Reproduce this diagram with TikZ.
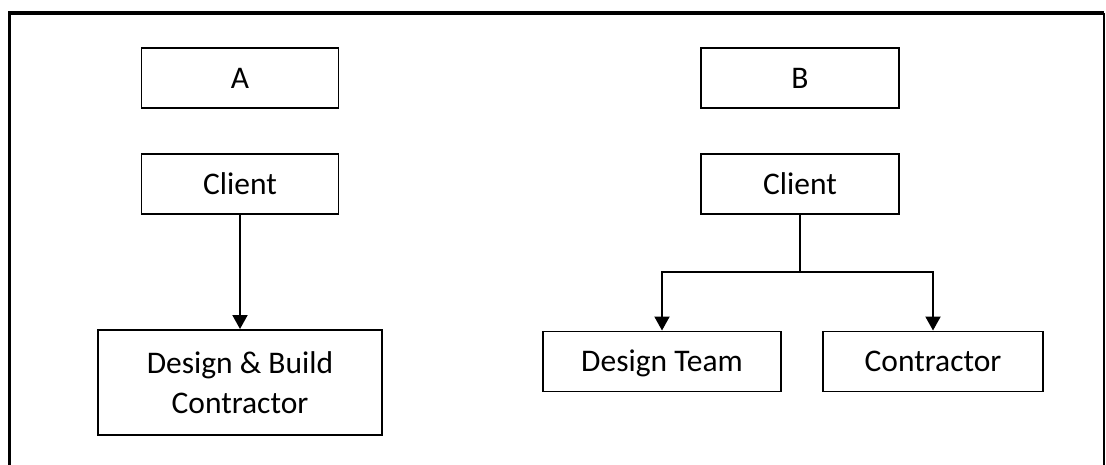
\documentclass[tikz,border=0pt]{standalone}
\usepackage{fontspec}
\setmainfont{Carlito}
\usetikzlibrary{arrows.meta,positioning}

\begin{document}
\begin{tikzpicture}[>={Triangle[length=0.35cm,width=0.375cm]},
    font=\fontsize{22.4}{28.5}\selectfont,
    orgbox/.style={draw, line width=1.4pt, minimum width=#1, minimum height=1.5cm,
                   inner sep=0pt, text height=0.52cm, text depth=0pt},
    link/.style={line width=1.4pt}]
  \useasboundingbox (0,0) rectangle (27.65,11.6);
  %% outer frame
  \draw[line width=2.8pt] (0.2375,-0.5) -- (0.2375,11.275) -- (27.6,11.275);
  \draw[line width=1pt] (27.6,11.275) -- (27.6,-0.5);
  %% option A
  \node[orgbox=4.925cm] (a) at (6,9.65) {A};
  \node[orgbox=4.925cm] (clienta) at (6,7.0) {Client};
  \node[orgbox=7.1cm, minimum height=2.625cm, align=center,
        text height={}, text depth={}] (dbcontractor) at (6,2.0375)
    {Design \& Build\\Contractor};
  \draw[link, ->] (clienta) -- (dbcontractor);
  %% option B
  \node[orgbox=4.95cm] (b) at (20,9.65) {B};
  \node[orgbox=4.95cm] (clientb) at (20,7.0) {Client};
  \node[orgbox=5.95cm] (designteam) at (16.55,2.5625) {Design Team};
  \node[orgbox=5.5cm] (contractor) at (23.325,2.5625) {Contractor};
  \coordinate (split) at (20,4.8);
  \draw[link] (clientb) -- (split);
  \foreach \to in {designteam,contractor}
    \draw[link, ->] (split) -| (\to);
\end{tikzpicture}
\end{document}
